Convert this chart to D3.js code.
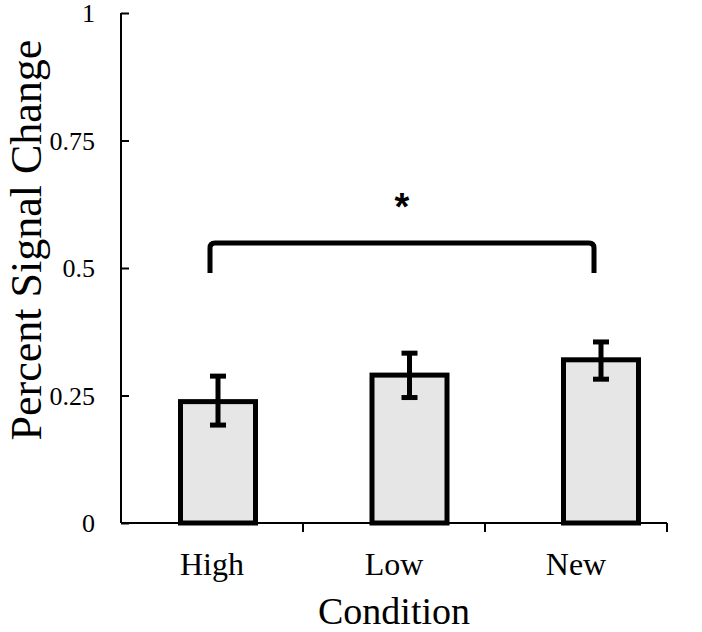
<!DOCTYPE html>
<html>
<head>
<meta charset="utf-8">
<script src="https://cdn.jsdelivr.net/npm/d3@7"></script>
<style>
  html, body { margin: 0; padding: 0; background: #fff; }
  svg { display: block; }
  text { font-family: "Liberation Serif", "Times New Roman", serif; fill: #000; }
</style>
</head>
<body>
<svg id="chart" width="702" height="632"></svg>
<script>
const categories = ["High", "Low", "New"];
const values = [0.238, 0.290, 0.320];
const errLow = [0.192, 0.246, 0.282];
const errHigh = [0.288, 0.333, 0.355];
const yTicks = [0, 0.25, 0.5, 0.75, 1];
const yTickLabels = ["0", "0.25", "0.5", "0.75", "1"];
const bracketFrom = "High";
const bracketTo = "New";
const bracketTop = 0.549;
const bracketBottom = 0.49;
const sigLabel = "*";

const svg = d3.select("#chart");
const axisX = 121, plotRight = 667, plotTop = 13, plotBottom = 523;

const y = d3.scaleLinear().domain([0, 1]).range([plotBottom, plotTop]);
const xAxisScale = d3.scaleBand().domain(categories).range([axisX, plotRight]);
const xBar = d3.scalePoint().domain(categories).range([218, 601]);
const barW = 75;

// bars
svg.selectAll("rect.bar").data(categories).enter().append("rect")
  .attr("class", "bar")
  .attr("x", d => xBar(d) - barW / 2)
  .attr("y", (d, i) => y(values[i]))
  .attr("width", barW)
  .attr("height", (d, i) => y(0) - y(values[i]))
  .attr("fill", "#e6e6e6")
  .attr("stroke", "#000")
  .attr("stroke-width", 5);

// error bars
const eb = svg.append("g").attr("stroke", "#000").attr("stroke-width", 5);
categories.forEach((c, i) => {
  const cx = xBar(c);
  eb.append("line").attr("x1", cx).attr("x2", cx).attr("y1", y(errLow[i])).attr("y2", y(errHigh[i]));
  eb.append("line").attr("x1", cx - 8).attr("x2", cx + 8).attr("y1", y(errLow[i])).attr("y2", y(errLow[i]));
  eb.append("line").attr("x1", cx - 8).attr("x2", cx + 8).attr("y1", y(errHigh[i])).attr("y2", y(errHigh[i]));
});

// y axis
const yAxis = d3.axisRight(y).tickValues(yTicks).tickSize(8).tickFormat("");
const gy = svg.append("g").attr("transform", `translate(${axisX},0)`).call(yAxis);
gy.select(".domain").attr("d", `M0,${plotTop}V${plotBottom}`).attr("stroke-width", 2);
gy.selectAll(".tick line").attr("stroke-width", 2);
svg.selectAll("text.ylab").data(yTicks).enter().append("text")
  .attr("class", "ylab")
  .attr("x", 95)
  .attr("y", d => y(d))
  .attr("dy", "0.35em")
  .attr("text-anchor", "end")
  .attr("font-size", 26)
  .text((d, i) => yTickLabels[i]);

// x axis
const xAxis = d3.axisBottom(xAxisScale).tickSize(0).tickFormat("");
const gx = svg.append("g").attr("transform", `translate(0,${plotBottom})`).call(xAxis);
gx.select(".domain").attr("d", `M${axisX},0H${plotRight}`).attr("stroke-width", 2);
gx.selectAll(".tick").remove();
svg.selectAll("line.xtick").data(categories).enter().append("line")
  .attr("class", "xtick")
  .attr("x1", d => xAxisScale(d) + xAxisScale.bandwidth())
  .attr("x2", d => xAxisScale(d) + xAxisScale.bandwidth())
  .attr("y1", plotBottom).attr("y2", plotBottom + 9)
  .attr("stroke", "#000").attr("stroke-width", 2);
svg.selectAll("text.xlab").data(categories).enter().append("text")
  .attr("class", "xlab")
  .attr("x", d => xAxisScale(d) + xAxisScale.bandwidth() / 2)
  .attr("y", 575)
  .attr("text-anchor", "middle")
  .attr("font-size", 32)
  .text(d => d);

// axis titles
svg.append("text")
  .attr("x", (axisX + plotRight) / 2)
  .attr("y", 624)
  .attr("text-anchor", "middle")
  .attr("font-size", 38)
  .text("Condition");
svg.append("text")
  .attr("transform", `translate(41,240) rotate(-90)`)
  .attr("text-anchor", "middle")
  .attr("font-size", 44)
  .text("Percent Signal Change");

// significance bracket
const bx1 = xBar(bracketFrom) - 8, bx2 = xBar(bracketTo) - 7;
const byT = y(bracketTop), byB = y(bracketBottom), r = 5;
svg.append("path")
  .attr("d", `M${bx1},${byB}V${byT + r}Q${bx1},${byT} ${bx1 + r},${byT}H${bx2 - r}Q${bx2},${byT} ${bx2},${byT + r}V${byB}`)
  .attr("fill", "none").attr("stroke", "#000").attr("stroke-width", 5);
svg.append("text")
  .attr("x", (bx1 + bx2) / 2)
  .attr("y", 220)
  .attr("text-anchor", "middle")
  .attr("font-size", 38)
  .attr("font-weight", "bold")
  .style("font-family", "'Liberation Sans', Arial, sans-serif")
  .text(sigLabel);
</script>
</body>
</html>
